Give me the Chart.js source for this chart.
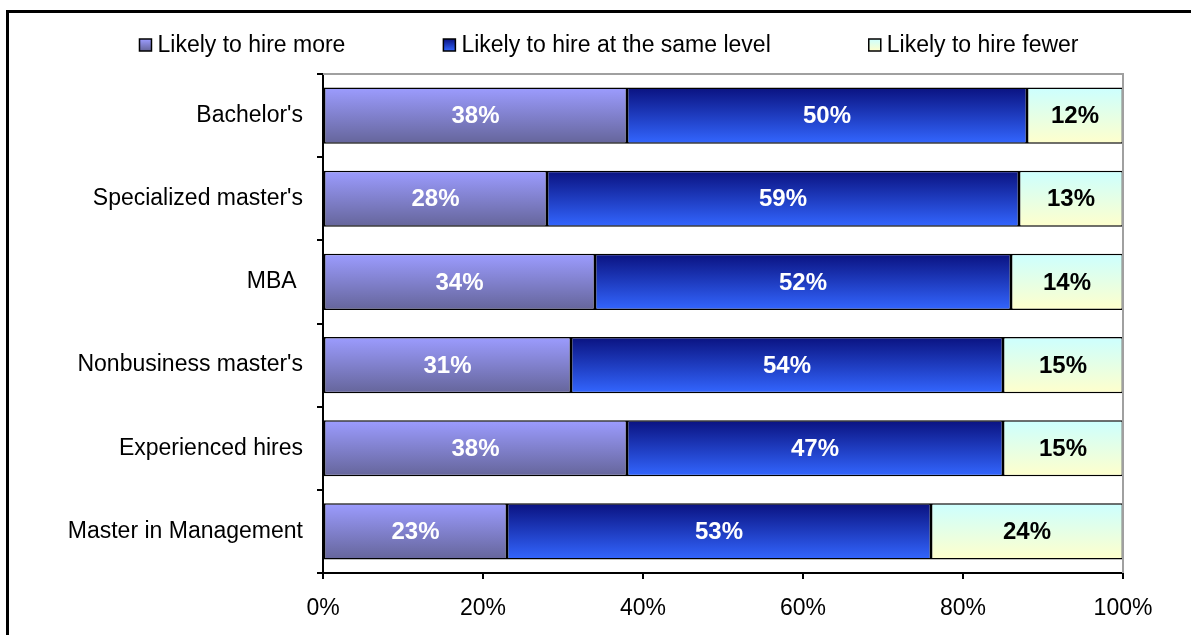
<!DOCTYPE html>
<html>
<head>
<meta charset="utf-8">
<title>Hiring plans by candidate type</title>
<script src="https://cdn.jsdelivr.net/npm/chart.js@4.4.1/dist/chart.umd.min.js"></script>
<style>
  html, body { margin: 0; padding: 0; background: #fff; }
  #wrap { position: relative; width: 1191px; height: 635px; }
</style>
</head>
<body>
<div id="wrap"><canvas id="grafica" width="1191" height="635"></canvas></div>
<script>
const categorias = ["Bachelor's", "Specialized master's", "MBA ", "Nonbusiness master's", "Experienced hires", "Master in Management"]
const masContrataciones = [38, 28, 34, 31, 38, 23]
const mismoNivel = [50, 59, 52, 54, 47, 53]
const menosContrataciones = [12, 13, 14, 15, 15, 24]
const ticksX = [0, 20, 40, 60, 80, 100]

const nombresSeries = ["Likely to hire more", "Likely to hire at the same level", "Likely to hire fewer"]
// top / bottom colours of each series gradient
const degradados = [
    ["#9c9cff", "#65659a"],
    ["#0a1280", "#3366ff"],
    ["#ccffff", "#ffffcc"]
]
const colorEtiqueta = ["#ffffff", "#ffffff", "#000000"]
const fuente = "'Liberation Sans', Arial, sans-serif"
const grosorBarra = 0.675

// vertical gradient sized to the bar of this category
let degradadoBarra = (c, i) => {
    const sy = c.chart.scales.y
    if (!sy || c.dataIndex === undefined) return degradados[i][1]
    const centro = sy.getPixelForValue(c.dataIndex)
    const alto = sy.height / categorias.length * grosorBarra
    if (!isFinite(centro) || !isFinite(alto) || alto <= 0) return degradados[i][1]
    const g = c.chart.ctx.createLinearGradient(0, centro - alto / 2, 0, centro + alto / 2)
    g.addColorStop(0, degradados[i][0])
    g.addColorStop(1, degradados[i][1])
    return g
}

// frame, plot border, legend, value labels
const pluginMarco = {
    id: "marco",
    beforeDraw(chart) {
        const ctx = chart.ctx
        ctx.save()
        ctx.fillStyle = "#000"
        ctx.fillRect(6, 10, 1191, 3)
        ctx.fillRect(6, 10, 3, 635)
        ctx.restore()
    },
    afterDraw(chart) {
        const ctx = chart.ctx
        const a = chart.chartArea
        ctx.save()
        ctx.strokeStyle = "#a0a0a0"
        ctx.lineWidth = 2
        ctx.beginPath()
        ctx.moveTo(a.left, a.top)
        ctx.lineTo(a.right, a.top)
        ctx.lineTo(a.right, a.bottom)
        ctx.stroke()

        // legend
        ctx.font = "23px " + fuente
        ctx.textBaseline = "middle"
        const caja = 12, sep = 6, hueco = 98
        const anchos = nombresSeries.map(t => caja + sep + ctx.measureText(t).width)
        const total = anchos.reduce((s, w) => s + w, 0) + hueco * (anchos.length - 1)
        let x = 609 - total / 2
        const y = 45
        nombresSeries.forEach((t, i) => {
            const g = ctx.createLinearGradient(0, y - caja / 2, 0, y + caja / 2)
            g.addColorStop(0, degradados[i][0])
            g.addColorStop(1, degradados[i][1])
            ctx.fillStyle = g
            ctx.fillRect(x, y - caja / 2, caja, caja)
            ctx.strokeStyle = "#000"
            ctx.lineWidth = 1.5
            ctx.strokeRect(x, y - caja / 2, caja, caja)
            ctx.fillStyle = "#000"
            ctx.fillText(t, x + caja + sep, y + 1)
            x += anchos[i] + hueco
        })
        ctx.restore()
    },
    afterDatasetsDraw(chart) {
        const ctx = chart.ctx
        ctx.save()
        ctx.font = "bold 24px " + fuente
        ctx.textAlign = "center"
        ctx.textBaseline = "middle"
        chart.data.datasets.forEach((ds, i) => {
            ctx.fillStyle = colorEtiqueta[i]
            chart.getDatasetMeta(i).data.forEach((bar, j) => {
                ctx.fillText(ds.data[j] + "%", (bar.x + bar.base) / 2, bar.y + 1)
            })
        })
        ctx.restore()
    }
}

const series = [masContrataciones, mismoNivel, menosContrataciones]

new Chart(document.getElementById("grafica"), {
    type: "bar",
    data: {
        labels: categorias,
        datasets: series.map((d, i) => ({
            label: nombresSeries[i],
            data: d,
            backgroundColor: c => degradadoBarra(c, i),
            borderColor: "#000",
            borderWidth: 1.5,
            borderSkipped: false,
            barPercentage: grosorBarra,
            categoryPercentage: 1
        }))
    },
    options: {
        indexAxis: "y",
        responsive: false,
        animation: false,
        devicePixelRatio: 1,
        layout: { padding: { top: 74, right: 68, left: 0, bottom: 0 } },
        plugins: { legend: { display: false }, tooltip: { enabled: false } },
        scales: {
            x: {
                stacked: true,
                min: 0,
                max: 100,
                afterBuildTicks: s => { s.ticks = ticksX.map(v => ({ value: v })) },
                afterFit: s => { s.height = 62 },
                grid: { drawOnChartArea: false, color: "#000", lineWidth: 2, tickLength: 6 },
                border: { color: "#000", width: 2 },
                ticks: { color: "#000", padding: 16, font: { family: fuente, size: 23 }, callback: v => v + "%" }
            },
            y: {
                stacked: true,
                afterFit: s => { s.width = 323 },
                grid: { drawOnChartArea: false, offset: true, color: "#000", lineWidth: 2, tickLength: 6 },
                border: { color: "#000", width: 2 },
                ticks: { color: "#000", padding: 14, font: { family: fuente, size: 23 } }
            }
        }
    },
    plugins: [pluginMarco]
})
</script>
</body>
</html>
